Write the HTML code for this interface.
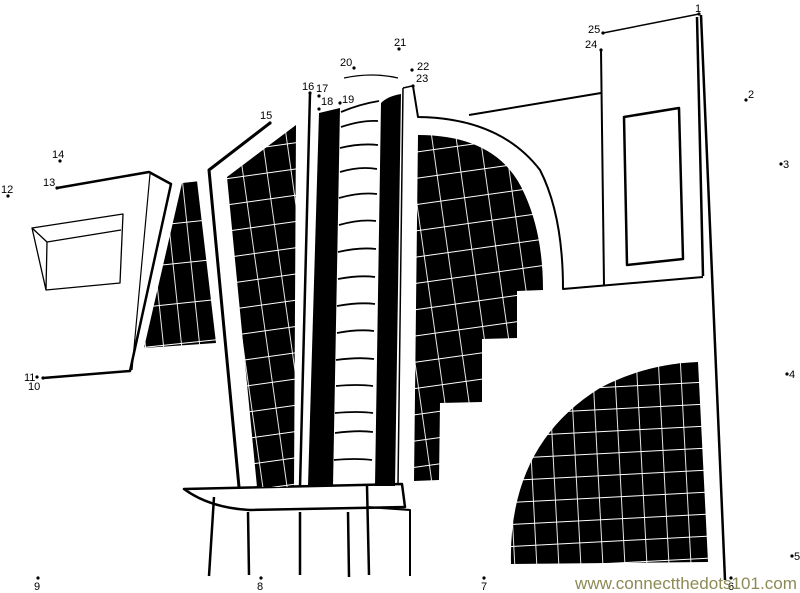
<!DOCTYPE html>
<html><head><meta charset="utf-8"><style>
html,body{margin:0;padding:0;background:#fff;}
svg{display:block}
text{font-family:"Liberation Sans",sans-serif;font-size:11px;fill:#000}
</style></head><body>
<svg width="800" height="593" viewBox="0 0 800 593" xmlns="http://www.w3.org/2000/svg">
<defs>
<pattern id="g1" width="18" height="40" patternUnits="userSpaceOnUse" patternTransform="rotate(-6)">
<rect width="18" height="40" fill="#000"/>
<path d="M0 0.5H18M0.5 0V40" stroke="#fff" stroke-width="0.9"/>
</pattern>
<pattern id="g2" width="24" height="26" patternUnits="userSpaceOnUse" patternTransform="rotate(-8)">
<rect width="24" height="26" fill="#000"/>
<path d="M0 0.5H24M0.5 0V26" stroke="#fff" stroke-width="0.9"/>
</pattern>
<pattern id="g3" width="22" height="22" patternUnits="userSpaceOnUse" patternTransform="rotate(-3)">
<rect width="22" height="22" fill="#000"/>
<path d="M0 0.5H22M0.5 0V22" stroke="#fff" stroke-width="0.9"/>
</pattern>
</defs>
<g fill="none" stroke="#000" stroke-linejoin="round">
<path d="M57 188 L149 172 L171 184 L130 371 L43 378" stroke-width="2.5"/>
<path d="M150 174 L132 370" stroke-width="1.2"/>
<path d="M32 228 L123 214 L120 283 L46 290 Z M32 228 L47 242 L121 230 M47 242 L46 290" stroke-width="1.3"/>
<path d="M270 123 L209 170 L239 487" stroke-width="3"/>
<path d="M310 93 L300 487" stroke-width="2.5"/>
<path d="M403 88 L412 86 M403 88 L398 485" stroke-width="1.5"/>
<path d="M413 86 L418 117 Q500 118 540 170 Q563 215 563 289 L703 277" stroke-width="2"/>
<path d="M469 115 L601 93" stroke-width="2"/>
<path d="M601 50 L604 285" stroke-width="2"/>
<path d="M603 33 L699 14" stroke-width="1.5"/>
<path d="M697 17 L703 276" stroke-width="2.5"/>
<path d="M701 15 L725 580" stroke-width="2.5"/>
<path d="M624 117 L679 108 L683 259 L627 265 Z" stroke-width="2.5"/>
<path d="M344 78 Q372 72 398 78" stroke-width="1.3"/>
<path d="M184 489 L402 484 L405 507 L250 510 Q210 508 184 489 Z" stroke-width="2.5" fill="#fff"/>
<path d="M367 507 L410 510 L410 576" stroke-width="2"/>
<path d="M214 497 L209 576 M248 512 L249 575 M300 512 L300 575 M348 512 L349 577 M367 486 L369 575" stroke-width="2.5"/>
</g>
<path d="M182 183 L197 181 L216 343 L144 348 Z" fill="url(#g1)"/>
<path d="M227 177 L296 125 L294 487 L257 487 Z" fill="url(#g2)"/>
<path d="M319 113 L340 108 L333 486 L308 486 Z" fill="#000"/>
<path d="M381 103 Q388 96 401 94 L395 486 L375 486 Z" fill="#000"/>
<path d="M418 135 Q500 135 525 195 Q543 235 543 290 L517 291 L517 338 L482 339 L482 402 L440 403 L439 480 L414 481 Z" fill="url(#g2)"/>
<path d="M698 362 L708 562 L511 564 Q508 445 600 388 Q645 364 698 362 Z" fill="url(#g3)"/>
<g fill="none" stroke="#000" stroke-width="1.8">
<path d="M341 112 Q360 104 379 101"/>
<path d="M341 127 Q362 120 378 121"/><path d="M340 148 Q360 143 378 145"/>
<path d="M340 172 Q360 166 377 169"/><path d="M339 198 Q360 192 377 194"/>
<path d="M339 225 Q360 219 376 221"/><path d="M338 252 Q360 247 376 249"/>
<path d="M338 279 Q360 275 375 277"/><path d="M337 306 Q360 302 375 304"/>
<path d="M337 333 Q358 329 374 331"/><path d="M336 360 Q358 357 374 359"/>
<path d="M336 386 Q358 384 373 386"/><path d="M335 413 Q358 411 373 413"/>
<path d="M335 433 Q358 430 373 432"/><path d="M334 460 Q356 458 372 460"/>
</g>
<g fill="#000">
<circle cx="699" cy="14" r="1.6"/><circle cx="746" cy="100" r="1.6"/><circle cx="781" cy="164" r="1.6"/>
<circle cx="787" cy="374" r="1.6"/><circle cx="792" cy="556" r="1.6"/><circle cx="731" cy="578" r="1.6"/>
<circle cx="484" cy="578" r="1.6"/><circle cx="261" cy="578" r="1.6"/><circle cx="38" cy="578" r="1.6"/>
<circle cx="43" cy="378" r="1.6"/><circle cx="37" cy="377" r="1.6"/><circle cx="8" cy="196" r="1.6"/>
<circle cx="57" cy="188" r="1.6"/><circle cx="60" cy="161" r="1.6"/><circle cx="270" cy="123" r="1.6"/>
<circle cx="310" cy="93" r="1.6"/><circle cx="319" cy="96" r="1.6"/><circle cx="319" cy="109" r="1.6"/>
<circle cx="340" cy="103" r="1.6"/><circle cx="354" cy="68" r="1.6"/><circle cx="399" cy="49" r="1.6"/>
<circle cx="412" cy="70" r="1.6"/><circle cx="413" cy="86" r="1.6"/><circle cx="601" cy="50" r="1.6"/>
<circle cx="603" cy="33" r="1.6"/>
</g>
<text x="695" y="12">1</text><text x="748" y="98">2</text><text x="783" y="168">3</text>
<text x="789" y="378">4</text><text x="794" y="560">5</text><text x="728" y="590">6</text>
<text x="481" y="590">7</text><text x="257" y="590">8</text><text x="34" y="590">9</text>
<text x="28" y="390">10</text><text x="24" y="381">11</text><text x="1" y="193">12</text>
<text x="43" y="186">13</text><text x="52" y="158">14</text><text x="260" y="119">15</text>
<text x="302" y="90">16</text><text x="316" y="92">17</text><text x="321" y="105">18</text>
<text x="342" y="103">19</text><text x="340" y="66">20</text><text x="394" y="46">21</text>
<text x="417" y="70">22</text><text x="416" y="82">23</text><text x="585" y="48">24</text>
<text x="588" y="33">25</text>
<text x="575" y="589" style="font-size:17px;fill:#8c8a55" textLength="222" lengthAdjust="spacingAndGlyphs">www.connectthedots101.com</text>
</svg>
</body></html>
